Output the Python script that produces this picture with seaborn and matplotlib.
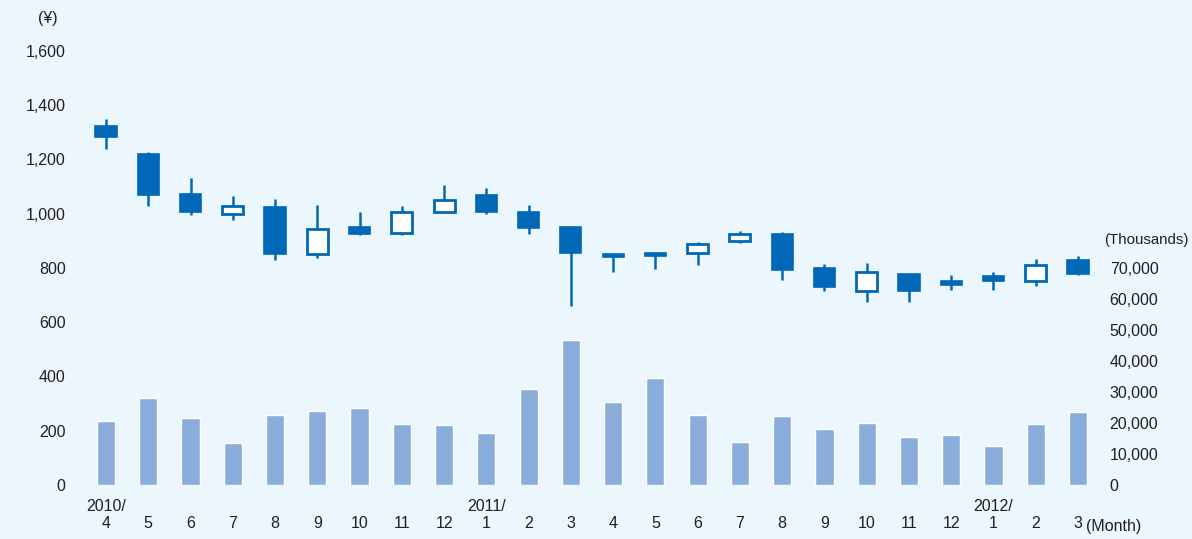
import numpy as np
import pandas as pd
import matplotlib.pyplot as plt
import seaborn as sns
from matplotlib.ticker import FuncFormatter

sns.set_theme(style="white")
plt.rcParams['font.family'] = ['Liberation Sans Narrow', 'Liberation Sans', 'DejaVu Sans']

# monthly share price (yen), 2010/4 - 2012/3
months = ["2010/\n4", "\n5", "\n6", "\n7", "\n8", "\n9", "\n10", "\n11", "\n12",
          "2011/\n1", "\n2", "\n3", "\n4", "\n5", "\n6", "\n7", "\n8", "\n9",
          "\n10", "\n11", "\n12", "2012/\n1", "\n2", "\n3"]
opens = [1321, 1221, 1073, 997, 1026, 851, 950, 927, 1007, 1069, 1006, 950,
         850, 855, 854, 899, 924, 799, 713, 778, 753, 769, 752, 830]
highs = [1349, 1227, 1131, 1064, 1053, 1031, 1004, 1029, 1105, 1096, 1031, 952,
         852, 856, 894, 935, 931, 816, 817, 779, 774, 786, 832, 845]
lows = [1239, 1028, 996, 976, 829, 836, 922, 922, 1005, 999, 926, 658,
        786, 794, 811, 892, 756, 716, 673, 676, 718, 717, 734, 773]
closes = [1282, 1070, 1004, 1029, 851, 942, 924, 1004, 1051, 1004, 948, 855,
          841, 844, 889, 924, 791, 731, 786, 713, 737, 750, 811, 777]
# trading volume (thousands of shares)
volume = [20600, 28100, 21600, 13600, 22600, 23900, 24800, 19700, 19400, 16800,
          31000, 46800, 26800, 34500, 22600, 13900, 22300, 18100, 20000, 15500,
          16100, 12600, 19700, 23600]

BG = '#EBF6FD'
BLUE = '#0068B6'
BAR = '#8BADDB'
TXT = '#231F20'

df = pd.DataFrame({'pos': np.arange(len(months)), 'open': opens, 'high': highs,
                   'low': lows, 'close': closes, 'volume': volume})

fig = plt.figure(figsize=(11.92, 5.39), dpi=100, facecolor=BG)
W, H = 1192, 539
x0, x1, ytop, ybot = 74, 1100, 50.7, 485
ax = fig.add_axes([x0 / W, 1 - ybot / H, (x1 - x0) / W, (ybot - ytop) / H])
ax.set_facecolor(BG)
ax2 = ax.twinx()
ax2.patch.set_visible(False)

# volume bars on right axis
sns.barplot(data=df, x='pos', y='volume', color=BAR, saturation=1, width=0.43,
            ax=ax2, zorder=1)

# candlesticks on left axis
up = df['close'] >= df['open']
ax.vlines(df['pos'], df['low'], df['high'], color=BLUE, lw=1.8, zorder=2)
body_lo = np.minimum(df['open'], df['close'])
body_h = np.abs(df['close'] - df['open'])
ax.bar(df['pos'][~up], body_h[~up], bottom=body_lo[~up], width=0.5,
       color=BLUE, edgecolor=BLUE, linewidth=1.2, zorder=3)
ax.bar(df['pos'][up], body_h[up], bottom=body_lo[up], width=0.5,
       color='white', edgecolor=BLUE, linewidth=2.0, zorder=3)

ax.set_ylim(0, 1600)
ax2.set_ylim(0, 140000)
ax.set_xlim((x0 - 106) / 42.26, (x1 - 106) / 42.26)

ax.set_yticks(range(0, 1601, 200))
ax.yaxis.set_major_formatter(FuncFormatter(lambda v, p: f'{int(v):,}'))
ax2.set_yticks(range(0, 70001, 10000))
ax2.yaxis.set_major_formatter(FuncFormatter(lambda v, p: f'{int(v):,}'))
ax.set_xticks(df['pos'])
ax.set_xticklabels(months, linespacing=1.15)
ax2.set_xlabel('')
ax2.set_ylabel('')
ax.set_xlabel('')
ax.set_ylabel('')

for a in (ax, ax2):
    for s in a.spines.values():
        s.set_visible(False)
    a.tick_params(length=0, labelsize=11.5, labelcolor=TXT)
    a.grid(False)
ax.tick_params(axis='y', pad=6)
ax.tick_params(axis='x', pad=10)
ax2.tick_params(axis='y', pad=7)

fig.text(48 / W, 1 - 18 / H, '(¥)', ha='center', va='center', fontsize=11.5, color=TXT)
fig.text(1189 / W, 1 - 240 / H, '(Thousands)', ha='right', va='center', fontsize=10.8, color=TXT)
fig.text(1086 / W, 1 - 527 / H, '(Month)', ha='left', va='center', fontsize=11.5, color=TXT)

fig.savefig('out.png', dpi=100, facecolor=BG)
